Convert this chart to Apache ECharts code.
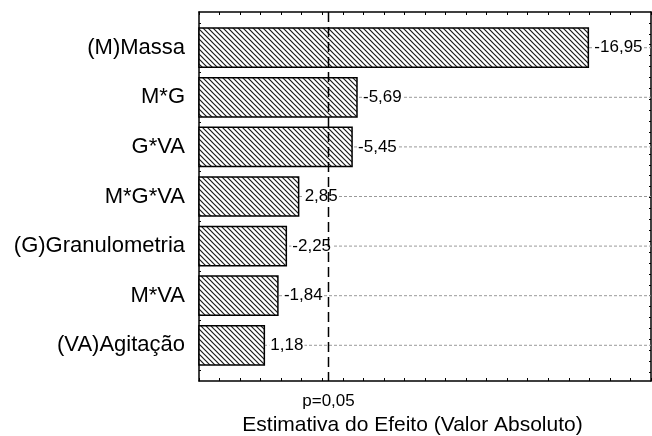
<!DOCTYPE html>
<html>
<head>
<meta charset="utf-8">
<script src="https://cdn.jsdelivr.net/npm/echarts@6/dist/echarts.min.js"></script>
<style>
  html, body { margin: 0; padding: 0; background: #fff; }
  #chart { width: 652px; height: 436px; }
</style>
</head>
<body>
<div id="chart"></div>
<script>
// Pareto chart of standardized effects
const categories = ['(M)Massa', 'M*G', 'G*VA', 'M*G*VA', '(G)Granulometria', 'M*VA', '(VA)Agitação'];
const effects = [-16.95, -5.69, -5.45, 2.85, -2.25, -1.84, 1.18];
const pCritical = 4.303;
const pLabel = 'p=0,05';
const axisTitle = 'Estimativa do Efeito (Valor Absoluto)';

const X_MIN = -2, X_MAX = 20;
const Y_MIN = -0.72, Y_MAX = categories.length - 1 + 0.72;
const FONT = 'Liberation Sans, Arial, sans-serif';

// diagonal hatch tile for the bars
function hatchTile() {
  const s = 5;
  const c = document.createElement('canvas');
  c.width = s; c.height = s;
  const g = c.getContext('2d');
  g.fillStyle = '#fff';
  g.fillRect(0, 0, s, s);
  g.strokeStyle = '#1a1a1a';
  g.lineWidth = 1.2;
  for (const off of [-s, 0, s]) {
    g.beginPath();
    g.moveTo(off - 1, -1);
    g.lineTo(off + s + 1, s + 1);
    g.stroke();
  }
  return c;
}
const hatch = hatchTile();

const fmt = v => v.toFixed(2).replace('.', ',');
const barData = effects.map((e, i) => [Math.abs(e), i, fmt(e)]);

const leftTicks = [];
for (let t = -0.5; t <= categories.length - 0.5 + 1e-9; t += 0.5) leftTicks.push(+t.toFixed(3));
const rightTicks = [];
for (let t = -0.5; t <= Y_MAX; t += 0.22) rightTicks.push(+t.toFixed(3));
const catTicks = categories.map((c, i) => i);

const chart = echarts.init(document.getElementById('chart'), null, { renderer: 'canvas' });

const axisLine = { show: true, onZero: false, lineStyle: { color: '#000', width: 1.5 } };

chart.setOption({
  animation: false,
  backgroundColor: '#fff',
  grid: { left: 199, right: 1, top: 12, bottom: 55, containLabel: false, outerBoundsMode: 'none' },
  xAxis: [
    {
      type: 'value', position: 'bottom', min: X_MIN, max: X_MAX, interval: 1,
      axisLine,
      axisTick: { show: true, inside: true, length: 3, lineStyle: { color: '#000', width: 1 } },
      axisLabel: {
        show: true, customValues: [pCritical], formatter: () => pLabel,
        margin: 12, fontSize: 17, color: '#000', fontFamily: FONT
      },
      splitLine: { show: false },
      name: axisTitle, nameLocation: 'middle', nameGap: 32,
      nameTextStyle: { fontSize: 21, color: '#000', fontFamily: FONT, padding: [0, 25, 0, 0] }
    },
    {
      type: 'value', position: 'top', min: X_MIN, max: X_MAX, interval: 1,
      axisLine,
      axisTick: { show: true, inside: true, length: 3, lineStyle: { color: '#000', width: 1 } },
      axisLabel: { show: false },
      splitLine: { show: false }
    }
  ],
  yAxis: [
    {
      type: 'value', position: 'left', inverse: true, min: Y_MIN, max: Y_MAX,
      axisLine,
      axisTick: { show: true, inside: true, length: 2, customValues: leftTicks, lineStyle: { color: '#000', width: 1 } },
      axisLabel: {
        show: true, customValues: catTicks, formatter: v => categories[Math.round(v)] || '',
        margin: 14, fontSize: 22, color: '#000', fontFamily: FONT
      },
      splitLine: { show: false }
    },
    {
      type: 'value', position: 'right', inverse: true, min: Y_MIN, max: Y_MAX,
      axisLine,
      axisTick: { show: true, inside: true, length: 2, customValues: rightTicks, lineStyle: { color: '#000', width: 1 } },
      axisLabel: { show: false },
      splitLine: { show: false }
    }
  ],
  series: [
    {
      type: 'custom',
      xAxisIndex: 0, yAxisIndex: 0,
      encode: { x: 0, y: 1 },
      data: barData,
      z: 2,
      renderItem(params, api) {
        const len = api.value(0);
        const idx = api.value(1);
        const label = barData[params.dataIndex][2];
        const start = api.coord([X_MIN, idx]);
        const end = api.coord([len, idx]);
        const right = api.coord([X_MAX, idx]);
        const h = api.size([0, 1])[1] * 0.79;
        return {
          type: 'group',
          children: [
            {
              type: 'line',
              shape: { x1: start[0], y1: start[1], x2: right[0], y2: right[1] },
              style: { stroke: '#9a9a9a', lineWidth: 1, lineDash: [3, 2] }
            },
            {
              type: 'rect',
              shape: { x: start[0], y: start[1] - h / 2, width: end[0] - start[0], height: h },
              style: { fill: { image: hatch, repeat: 'repeat' }, stroke: '#000', lineWidth: 1.5 }
            },
            {
              type: 'text',
              x: end[0] + 5, y: end[1],
              style: {
                text: label, fill: '#000', fontSize: 17, fontFamily: FONT,
                align: 'left', verticalAlign: 'middle',
                backgroundColor: '#fff', padding: [0, 1]
              }
            }
          ]
        };
      }
    },
    {
      type: 'custom',
      xAxisIndex: 0, yAxisIndex: 0,
      encode: { x: 0 },
      data: [[pCritical]],
      z: 5,
      renderItem(params, api) {
        const x = api.value(0);
        const a = api.coord([x, Y_MIN]);
        const b = api.coord([x, Y_MAX]);
        return {
          type: 'line',
          shape: { x1: a[0], y1: a[1], x2: b[0], y2: b[1] },
          style: { stroke: '#000', lineWidth: 1.5, lineDash: [10, 5] }
        };
      }
    }
  ]
});
</script>
</body>
</html>
